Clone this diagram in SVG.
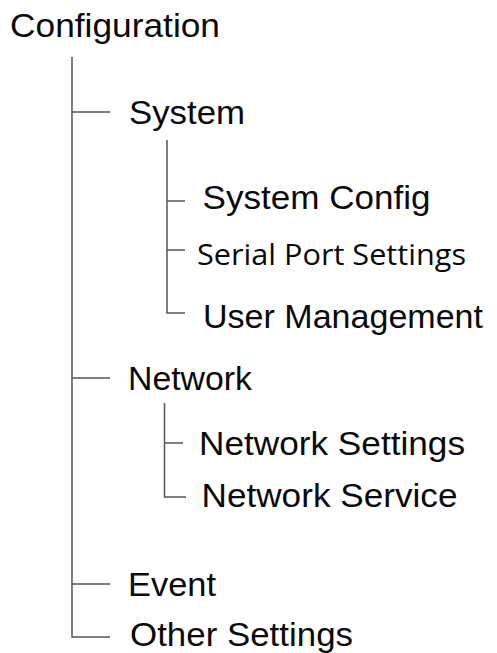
<svg xmlns="http://www.w3.org/2000/svg" width="497" height="653" viewBox="0 0 497 653">
  <style>
    .bg { fill: #ffffff; }
    .lbl { font-family: "Liberation Sans", Arial, sans-serif; font-size: 33px; fill: #0a0a0a; }
    .alt { font-family: "Open Sans", "Noto Sans", sans-serif; font-size: 29px; fill: #0a0a0a; }
    .wire { stroke: #555555; stroke-width: 1.5; fill: none; }
  </style>
  <rect class="bg" x="0" y="0" width="497" height="653"/>

  <!-- tree connectors -->
  <g id="connectors">
    <path class="wire" d="M72 57 V637 H110"/>
    <path class="wire" d="M72 112 H110"/>
    <path class="wire" d="M72 378 H110"/>
    <path class="wire" d="M72 584 H110"/>
    <path class="wire" d="M167 140 V313 H185"/>
    <path class="wire" d="M167 201 H185"/>
    <path class="wire" d="M167 250 H185"/>
    <path class="wire" d="M164.5 403 V497 H186"/>
    <path class="wire" d="M164.5 443 H183"/>
  </g>

  <g id="configuration"><text class="lbl" x="10" y="37" textLength="210" lengthAdjust="spacingAndGlyphs">Configuration</text></g>
  <g id="system"><text class="lbl" x="129" y="124" textLength="116" lengthAdjust="spacingAndGlyphs">System</text></g>
  <g id="system-config"><text class="lbl" x="202.5" y="209" textLength="228" lengthAdjust="spacingAndGlyphs">System Config</text></g>
  <g id="serial-port-settings"><text class="alt" x="197" y="265" textLength="269" lengthAdjust="spacingAndGlyphs">Serial Port Settings</text></g>
  <g id="user-management"><text class="lbl" x="203" y="328" textLength="280" lengthAdjust="spacingAndGlyphs">User Management</text></g>
  <g id="network"><text class="lbl" x="128" y="390" textLength="124" lengthAdjust="spacingAndGlyphs">Network</text></g>
  <g id="network-settings"><text class="lbl" x="199" y="455" textLength="266" lengthAdjust="spacingAndGlyphs">Network Settings</text></g>
  <g id="network-service"><text class="lbl" x="201.5" y="507" textLength="256" lengthAdjust="spacingAndGlyphs">Network Service</text></g>
  <g id="event"><text class="lbl" x="128" y="596" textLength="88" lengthAdjust="spacingAndGlyphs">Event</text></g>
  <g id="other-settings"><text class="lbl" x="130" y="646" textLength="223" lengthAdjust="spacingAndGlyphs">Other Settings</text></g>
</svg>
